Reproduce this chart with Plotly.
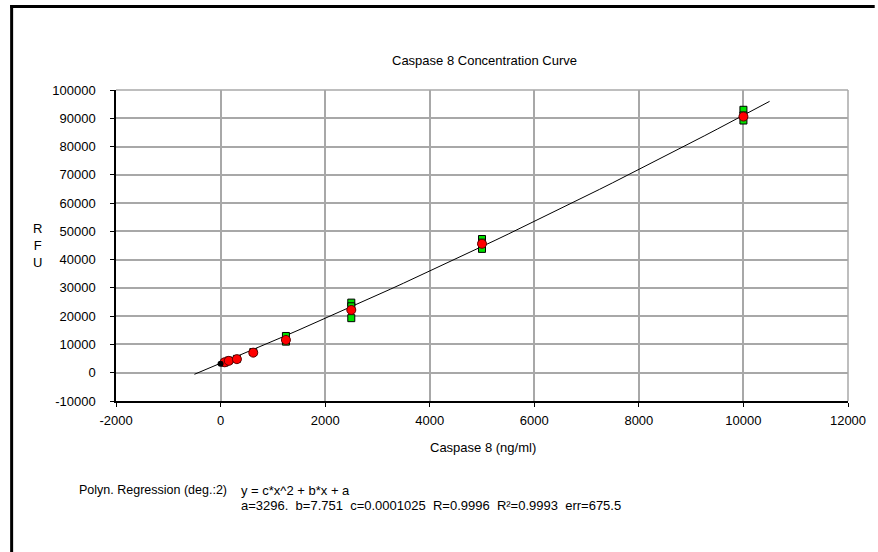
import plotly.graph_objects as go

# ---- data ----
conc = [0, 78, 156, 312.5, 625, 1250, 2500, 5000, 10000]
mean_rfu = [3200, 3700, 4200, 4800, 7100, 11600, 22200, 45600, 90600]
rep_conc = [78, 156, 312.5, 625, 1250, 1250, 2500, 2500, 2500, 5000, 5000, 5000, 10000, 10000, 10000]
rep_rfu = [3600, 4300, 4900, 7300, 13000, 11000, 24800, 23500, 19300, 47300, 46000, 43800, 93000, 91000, 89200]
blank_conc = [0]
blank_rfu = [3200]
coef_a, coef_b, coef_c = 3296.0, 7.751, 0.0001025
fit_x = [-500 + 250 * i for i in range(45)]
fit_y = [coef_c * x * x + coef_b * x + coef_a for x in fit_x]

xticks = [-2000, 0, 2000, 4000, 6000, 8000, 10000, 12000]
yticks = [-10000, 0, 10000, 20000, 30000, 40000, 50000, 60000, 70000, 80000, 90000, 100000]

FONT = "Liberation Sans"
FS = 13
fig = go.Figure()
fig.add_trace(go.Scatter(x=fit_x, y=fit_y, mode="lines",
                         line=dict(color="black", width=1), hoverinfo="skip"))
fig.add_trace(go.Scatter(x=rep_conc, y=rep_rfu, mode="markers",
                         marker=dict(symbol="square", size=7, color="#00e000",
                                     line=dict(color="black", width=1))))
fig.add_trace(go.Scatter(x=conc[1:], y=mean_rfu[1:], mode="markers",
                         marker=dict(symbol="circle", size=9, color="#ff0000",
                                     line=dict(color="#600000", width=1))))
fig.add_trace(go.Scatter(x=blank_conc, y=blank_rfu, mode="markers",
                         marker=dict(symbol="circle", size=6, color="black")))

L, R, T, B = 116, 856, 90, 401
W, H = 878, 552
def px(x):
    return (x - L) / (R - L)
def py(y):
    return (B - y) / (B - T)

fig.update_layout(
    width=W, height=H,
    margin=dict(l=L, r=W - R, t=T, b=H - B, pad=0),
    paper_bgcolor="white", plot_bgcolor="white",
    showlegend=False,
    font=dict(family=FONT, size=FS, color="black"),
    xaxis=dict(range=[-2000, 12000], tickvals=xticks, ticktext=[str(v) for v in xticks],
               showgrid=True, gridcolor="#a8a8a8", gridwidth=1.5,
               showline=True, linecolor="black", linewidth=1.5, mirror=False,
               ticks="outside", ticklen=4, tickcolor="black", zeroline=False,
               ticklabelstandoff=3,
               tickfont=dict(family=FONT, size=FS)),
    yaxis=dict(range=[-10000, 100000], tickvals=yticks, ticktext=[str(v) for v in yticks],
               showgrid=True, gridcolor="#a8a8a8", gridwidth=1.5,
               showline=True, linecolor="black", linewidth=1.5, mirror=False,
               ticks="outside", ticklen=4, tickcolor="black", zeroline=False,
               ticklabelstandoff=12,
               tickfont=dict(family=FONT, size=FS)),
    shapes=[
        dict(type="line", xref="paper", yref="paper", x0=0, x1=1, y0=1, y1=1,
             line=dict(color="#a8a8a8", width=1.5)),
        dict(type="line", xref="paper", yref="paper", x0=1, x1=1, y0=0, y1=1,
             line=dict(color="#a8a8a8", width=1.5)),
        dict(type="line", xref="paper", yref="paper", x0=px(9), x1=px(W + 5), y0=py(6.5), y1=py(6.5),
             line=dict(color="black", width=3)),
        dict(type="line", xref="paper", yref="paper", x0=px(10.5), x1=px(10.5), y0=py(5), y1=py(H + 5),
             line=dict(color="black", width=3)),
    ],
    annotations=[
        dict(text="Caspase 8 Concentration Curve", xref="paper", yref="paper",
             x=px(489), y=py(60), showarrow=False, xanchor="center", yanchor="middle",
             font=dict(size=FS)),
        dict(text="Caspase 8 (ng/ml)", xref="paper", yref="paper",
             x=px(487), y=py(447), showarrow=False, xanchor="center", yanchor="middle",
             font=dict(size=FS)),
        dict(text="R<br>F<br>U", xref="paper", yref="paper",
             x=px(37), y=py(245), showarrow=False, xanchor="center", yanchor="middle",
             font=dict(size=FS)),
        dict(text="Polyn. Regression (deg.:2)", xref="paper", yref="paper",
             x=px(77), y=py(490), showarrow=False, xanchor="left", yanchor="middle",
             font=dict(size=12.5)),
        dict(text="y = c*x^2 + b*x + a", xref="paper", yref="paper",
             x=px(240), y=py(490), showarrow=False, xanchor="left", yanchor="middle",
             font=dict(size=FS)),
        dict(text="a=3296.  b=7.751  c=0.0001025  R=0.9996  R²=0.9993  err=675.5",
             xref="paper", yref="paper",
             x=px(240), y=py(505), showarrow=False, xanchor="left", yanchor="middle",
             font=dict(size=FS)),
    ],
)
fig.write_html("out.html", config={"displayModeBar": False},
               post_script="document.body.style.margin='0px';")
